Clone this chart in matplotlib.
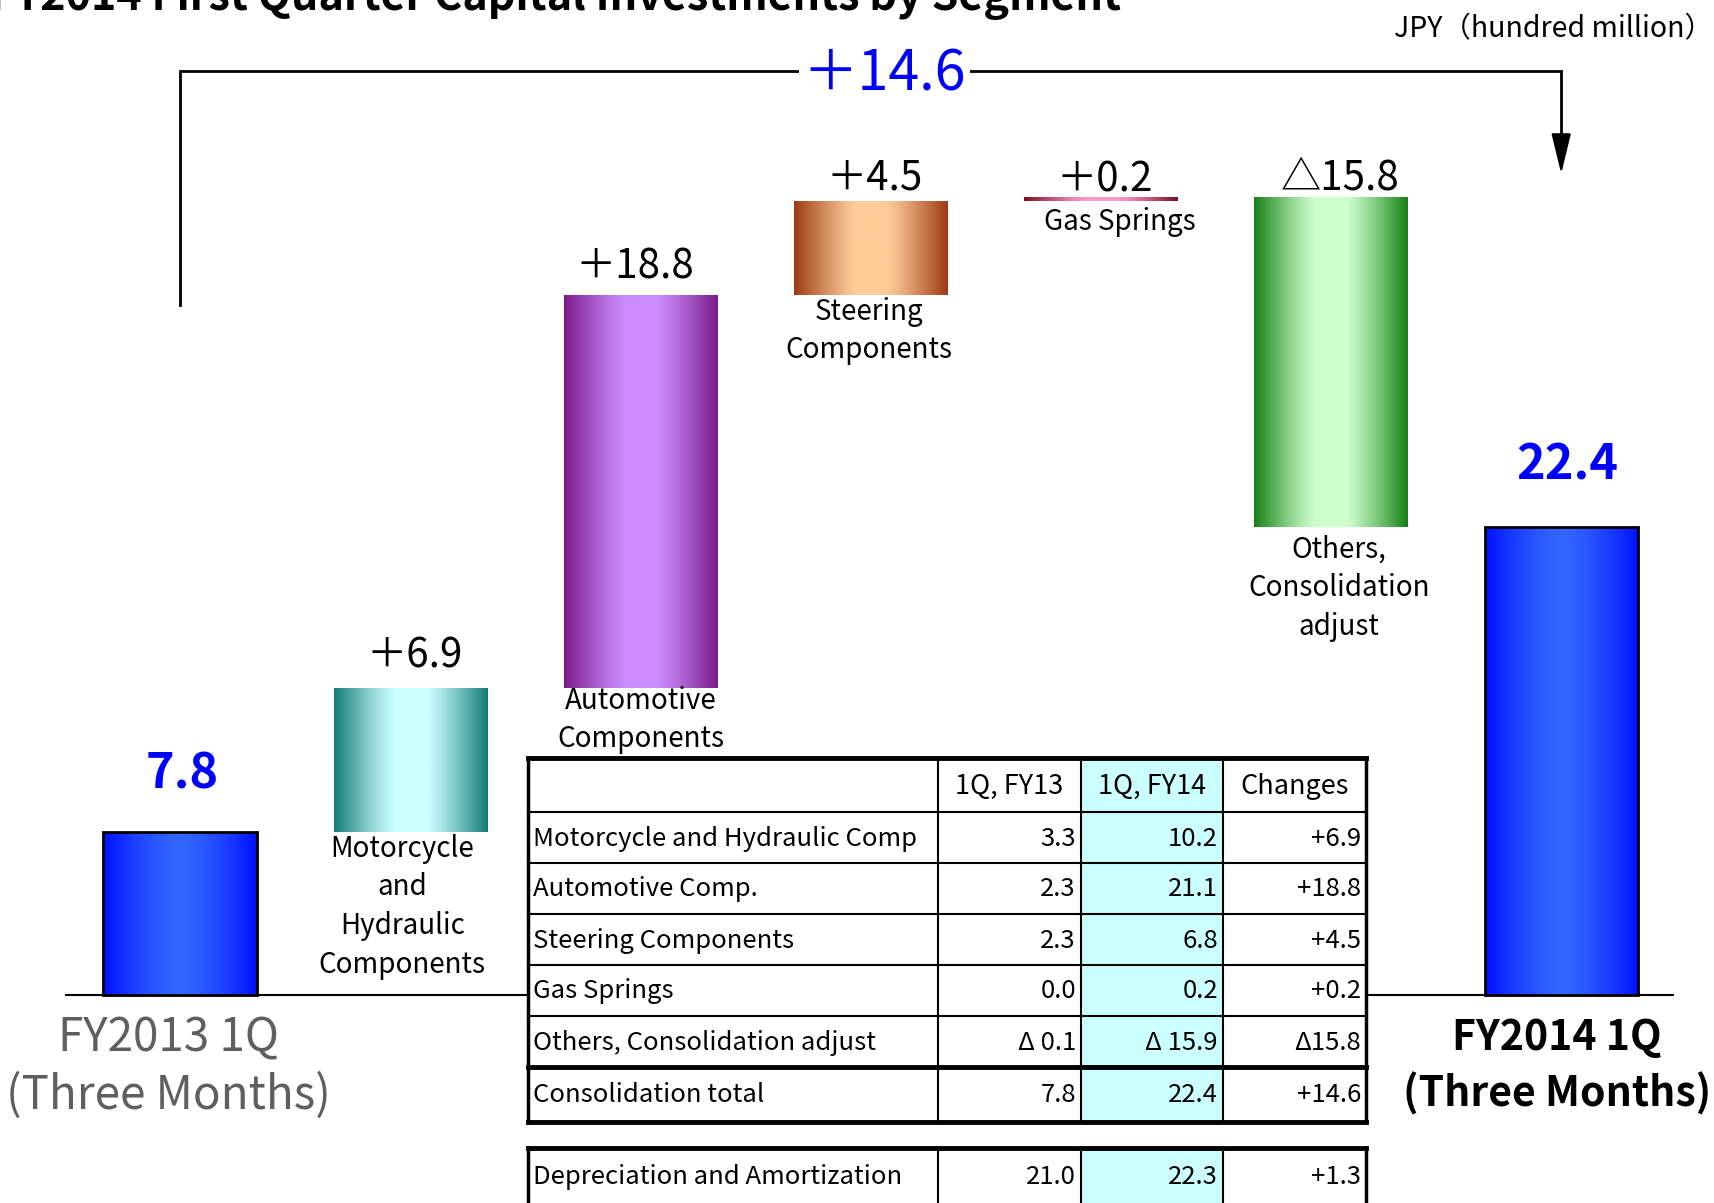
import numpy as np
import matplotlib.pyplot as plt
from matplotlib.patches import Rectangle
from matplotlib.colors import to_rgb

plt.rcParams['font.family'] = ['Noto Sans CJK JP', 'DejaVu Sans']

# --- data -------------------------------------------------------------
title = 'FY2014 First Quarter Capital Investments by Segment'
unit_label = 'JPY（hundred million）'
start_value = 7.8
end_value = 22.4
total_change = 14.6
segments = ['Motorcycle\nand\nHydraulic\nComponents', 'Automotive\nComponents',
            'Steering\nComponents', 'Gas Springs', 'Others,\nConsolidation\nadjust']
seg_changes = [6.9, 18.8, 4.5, 0.2, -15.8]
period_labels = ['FY2013 1Q\n(Three Months)', 'FY2014 1Q\n(Three Months)']

table_cols = ['', '1Q, FY13', '1Q, FY14', 'Changes']
table_rows = ['Motorcycle and Hydraulic Comp', 'Automotive Comp.', 'Steering Components',
              'Gas Springs', 'Others, Consolidation adjust', 'Consolidation total']
fy13 = [3.3, 2.3, 2.3, 0.0, -0.1, 7.8]
fy14 = [10.2, 21.1, 6.8, 0.2, -15.9, 22.4]
changes = [6.9, 18.8, 4.5, 0.2, -15.8, 14.6]
da_label = 'Depreciation and Amortization'
da_values = [21.0, 22.3, 1.3]

# gradient colours (edge, centre) per bar
bar_colors = [('#0010ff', '#3366ff'), ('#137a76', '#ccffff'), ('#7a1a8a', '#cc8cff'),
              ('#9a3a14', '#ffcc99'), ('#7a1020', '#ff99cc'), ('#158015', '#ccffcc'),
              ('#0010ff', '#3366ff')]
label_dx = [0, 4, -6, 4, 4, 9]         # px shift of change labels
label_gap = [0, 11, 7, 2, -4, -2]      # px between bar top and change label
name_dx = [-8, 0, -2, 19, 8]           # px shift of segment names
name_dy = [-2, 2, -2, -6, -8]


def fmt_val(v):
    return f'Δ {abs(v):.1f}' if v < 0 else f'{v:.1f}'


def fmt_chg(v):
    return f'Δ{abs(v):.1f}' if v < 0 else f'+{v:.1f}'


W, H = 1715, 1203
fig = plt.figure(figsize=(W / 100, H / 100), dpi=100)

# main axes: x = category index, y = value; 230.2 px per category, 20.9 px per unit
ax = fig.add_axes([0, 0, 1, 1])
x0px, xs, y0px, ys = 180, 230.2, 995, 20.9
ax.axis('off')

# waterfall geometry
bottoms = [0.0]
heights = [start_value]
level = start_value
for c in seg_changes:
    bottoms.append(level if c >= 0 else level + c)
    heights.append(abs(c))
    level += c
bottoms.append(0.0)
heights.append(end_value)

bw = 0.665
t = np.linspace(0, 1, 256)
d = np.abs(2 * t - 1)
for i, (b, h) in enumerate(zip(bottoms, heights)):
    edge, centre = np.array(to_rgb(bar_colors[i][0])), np.array(to_rgb(bar_colors[i][1]))
    if i in (0, 6):
        w = d ** 1.5
    else:
        w = np.clip((d - 0.2) / 0.8, 0, 1) ** 1.2
    grad = centre[None, :] + (edge - centre)[None, :] * w[:, None]
    rect = Rectangle((i - bw / 2, b), bw, h, fill=False,
                     edgecolor='black' if i in (0, 6) else 'none', lw=2, zorder=3)
    ax.add_patch(rect)
    im = ax.imshow(grad[None, :, :], extent=(i - bw / 2, i + bw / 2, b, b + h),
                   aspect='auto', zorder=2, interpolation='bilinear')
    im.set_clip_path(rect)

ax.set_xlim(-x0px / xs, (W - x0px) / xs)
ax.set_ylim(-(H - y0px) / ys, y0px / ys)

# baseline
ax.plot([-0.495, 6.486], [0, 0], color='black', lw=1.5, zorder=1)

# totals
ax.annotate(f'{start_value:.1f}', (0, start_value), xytext=(2, 33), textcoords='offset pixels',
            ha='center', va='bottom', color='#0000ff', fontsize=35, fontweight='bold')
ax.annotate(f'{end_value:.1f}', (6, end_value), xytext=(6, 37), textcoords='offset pixels',
            ha='center', va='bottom', color='#0000ff', fontsize=35, fontweight='bold')

# segment change labels and names
for i, c in enumerate(seg_changes, start=1):
    top = bottoms[i] + heights[i]
    txt = ('＋' if c >= 0 else '△') + f'{abs(c):.1f}'
    ax.annotate(txt, (i, top), xytext=(label_dx[i], label_gap[i]), textcoords='offset pixels',
                ha='center', va='bottom', fontsize=29)
    ax.annotate(segments[i - 1], (i, bottoms[i]), xytext=(name_dx[i - 1], name_dy[i - 1]),
                textcoords='offset pixels', ha='center', va='top', fontsize=20,
                linespacing=1.37)

# period labels
ax.annotate(period_labels[0], (0, 0), xytext=(-12, -19), textcoords='offset pixels',
            ha='center', va='top', fontsize=33, color='#5f5f5f', linespacing=1.23)
ax.annotate(period_labels[1], (6, 0), xytext=(-4, -22), textcoords='offset pixels',
            ha='center', va='top', fontsize=29.5, fontweight='bold', linespacing=1.38)

# total change bracket
y_top = 44.2
ax.plot([0, 0, 6, 6], [33.0, y_top, y_top, 40.5], color='black', lw=2.0, zorder=4,
        solid_joinstyle='miter')
ax.annotate('', xy=(6, 39.3), xytext=(6, 41), zorder=4,
            arrowprops=dict(arrowstyle='-|>,head_length=0.9,head_width=0.22', color='black',
                            lw=1.5, mutation_scale=28, shrinkA=0, shrinkB=0))
ax.annotate('＋' + f'{total_change:.1f}', (3.06, y_top), xytext=(0, -4),
            textcoords='offset pixels', ha='center', va='center',
            fontsize=40, color='#0000ff', zorder=5,
            bbox=dict(facecolor='white', edgecolor='none', pad=3))

# title (cut off at the top-left, as in the source slide) and unit
fig.text(-10 / W, 1 - 10 / H, title, ha='left', va='baseline', fontsize=31, fontweight='bold')
fig.text(1713 / W, 1 - 29 / H, unit_label, ha='right', va='center', fontsize=20.5)

# --- table (pixel overlay) ---------------------------------------------
tb = fig.add_axes([0, 0, 1, 1], zorder=3)
tb.set_xlim(0, W)
tb.set_ylim(H, 0)
tb.axis('off')

cx = [528, 938, 1081, 1223, 1366]
ry = [758, 812, 863, 914, 965, 1016, 1067, 1122]
da_y = [1148, 1206]

for y_a, y_b in [(ry[0], ry[-1]), (da_y[0], da_y[1])]:
    tb.add_patch(Rectangle((cx[0], y_a), cx[-1] - cx[0], y_b - y_a, facecolor='white',
                           edgecolor='none', zorder=1))
    tb.add_patch(Rectangle((cx[2], y_a), cx[3] - cx[2], y_b - y_a, facecolor='#ccffff',
                           edgecolor='none', zorder=1))

kw = dict(color='black', solid_capstyle='projecting', zorder=3)
for j, y in enumerate(ry):
    lw = 3.5 if j in (0, 6, 7) else 1.5
    tb.plot([cx[0], cx[-1]], [y, y], lw=lw, **kw)
tb.plot([cx[0], cx[-1]], [da_y[0], da_y[0]], lw=3.5, **kw)
for y_a, y_b in [(ry[0], ry[-1]), (da_y[0], da_y[1])]:
    for k, x in enumerate(cx):
        lw = 2.5 if k in (0, 4) else 1.5
        tb.plot([x, x], [y_a, y_b], lw=lw, **kw)

fs = 18.5
for k in (1, 2, 3):
    tb.text((cx[k] + cx[k + 1]) / 2, (ry[0] + ry[1]) / 2 + 1, table_cols[k],
            ha='center', va='center', fontsize=19.5, zorder=4)
for r in range(len(table_rows)):
    yc = (ry[r + 1] + ry[r + 2]) / 2 + 1
    tb.text(cx[0] + 5, yc, table_rows[r], ha='left', va='center', fontsize=fs, zorder=4)
    tb.text(cx[2] - 5, yc, fmt_val(fy13[r]), ha='right', va='center', fontsize=fs, zorder=4)
    tb.text(cx[3] - 5, yc, fmt_val(fy14[r]), ha='right', va='center', fontsize=fs, zorder=4)
    tb.text(cx[4] - 5, yc, fmt_chg(changes[r]), ha='right', va='center', fontsize=fs, zorder=4)
yc = da_y[0] + 29
tb.text(cx[0] + 5, yc, da_label, ha='left', va='center', fontsize=fs, zorder=4)
tb.text(cx[2] - 5, yc, fmt_val(da_values[0]), ha='right', va='center', fontsize=fs, zorder=4)
tb.text(cx[3] - 5, yc, fmt_val(da_values[1]), ha='right', va='center', fontsize=fs, zorder=4)
tb.text(cx[4] - 5, yc, fmt_chg(da_values[2]), ha='right', va='center', fontsize=fs, zorder=4)

fig.savefig('out.png', dpi=100)
